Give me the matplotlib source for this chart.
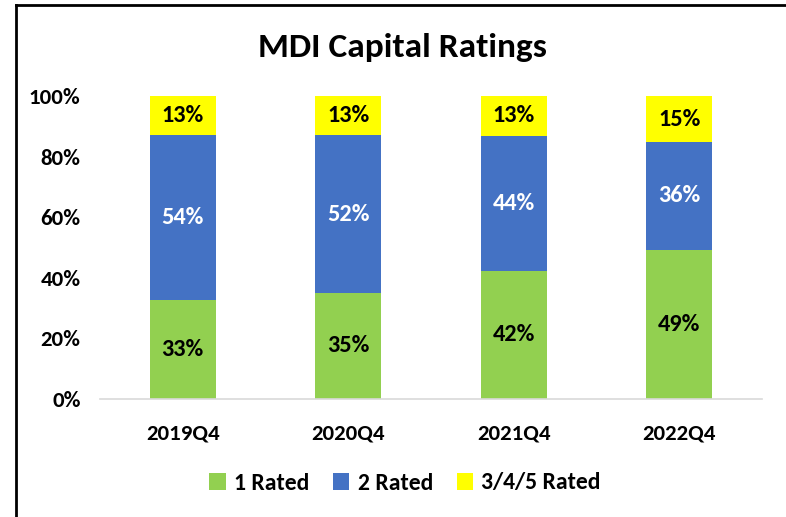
import matplotlib
matplotlib.use("Agg")
import matplotlib.pyplot as plt
import numpy as np
from matplotlib.lines import Line2D
from matplotlib.patches import Patch

categories = ["2019Q4", "2020Q4", "2021Q4", "2022Q4"]
rated1 = [32.7, 35.0, 42.4, 49.2]
rated2 = [54.4, 52.0, 44.4, 35.6]
rated345 = [12.9, 13.0, 13.2, 15.2]
series_names = ["1 Rated", "2 Rated", "3/4/5 Rated"]
colors = ["#92D050", "#4472C4", "#FFFF00"]
label_colors = ["black", "white", "black"]
yticks = [0, 20, 40, 60, 80, 100]

plt.rcParams['font.family'] = ['Carlito', 'Lato', 'DejaVu Sans']
WT = 'bold'

W, H = 786, 517
fig = plt.figure(figsize=(W / 100, H / 100), dpi=100)
ax = fig.add_axes([100 / W, 1 - 399 / H, (762 - 100) / W, (399 - 96) / H])

x = np.arange(len(categories))
bottom = np.zeros(len(categories))
for vals, name, col, lc in zip([rated1, rated2, rated345], series_names, colors, label_colors):
    vals = np.array(vals)
    ax.bar(x, vals, 0.4, bottom=bottom, color=col, label=name)
    for xi, b, v in zip(x, bottom, vals):
        ax.text(xi, b + v / 2, f"{round(v):d}%", ha='center', va='center',
                color=lc, fontsize=17.5, fontweight=WT)
    bottom += vals

ax.set_xlim(-0.5, len(categories) - 0.5)
ax.set_ylim(0, 100)
ax.set_yticks(yticks)
ax.set_yticklabels([f"{t}%" for t in yticks], fontsize=16.5, fontweight=WT)
ax.set_xticks(x)
ax.set_xticklabels(categories, fontsize=16.5, fontweight=WT)
ax.tick_params(axis='both', length=0)
ax.tick_params(axis='y', pad=14)
ax.tick_params(axis='x', pad=18)
for s in ['top', 'right', 'left']:
    ax.spines[s].set_visible(False)
ax.spines['bottom'].set_color('#D9D9D9')
ax.spines['bottom'].set_linewidth(1.2)

fig.text(402 / W, 1 - 47 / H, "MDI Capital Ratings", ha='center', va='center',
         fontsize=25.5, fontweight=WT)

handles = [Patch(facecolor=c, edgecolor='none') for c in colors]
fig.legend(handles, series_names, loc='center', bbox_to_anchor=(405 / W, 1 - 483 / H),
           ncol=3, frameon=False, handlelength=0.7, handleheight=0.7,
           handletextpad=0.35, columnspacing=1.0, prop={'weight': WT, 'size': 17})

# outer frame (left and top edges visible)
fig.add_artist(Line2D([15.5 / W, 15.5 / W], [0, 1 - 4.5 / H], transform=fig.transFigure,
                      color='black', linewidth=2))
fig.add_artist(Line2D([15.5 / W, 1], [1 - 4.5 / H, 1 - 4.5 / H], transform=fig.transFigure,
                      color='black', linewidth=2))

fig.savefig("out.png", dpi=100, facecolor='white')
